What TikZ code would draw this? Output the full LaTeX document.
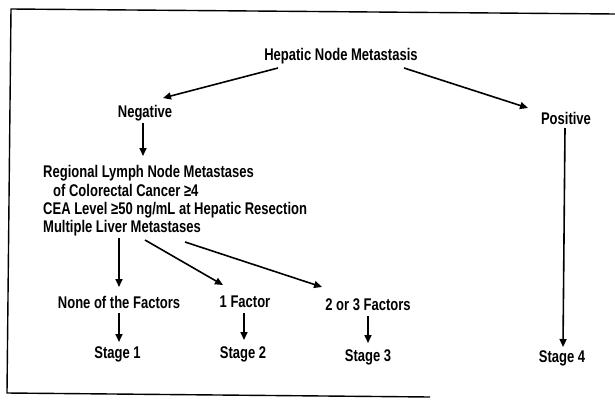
\documentclass[tikz,border=0pt]{standalone}
\usepackage{fontspec}
\setmainfont{Liberation Sans}[FakeStretch=0.77,UprightFont=*-Bold]
\usetikzlibrary{arrows.meta,calc}
\begin{document}
\begin{tikzpicture}[x=1pt,y=-1pt,
  lbl/.style={inner sep=0pt,font=\fontsize{16.9}{18.3}\selectfont},
  arr/.style={line width=1.6pt,-{Triangle[length=8pt,width=7pt]}},
  frame/.style={line width=1.4pt}]
\useasboundingbox (0,0) rectangle (615,399);
% frame (open on the right)
\draw[frame] (430,397) -- (7,393) -- (11,9) -- (615,14);
% nodes
\node[lbl] (hep) at (341,56.5) {Hepatic Node Metastasis};
\node[lbl] (neg) at (145,113.5) {Negative};
\node[lbl] (pos) at (566,118.5) {Positive};
\node[lbl,align=left,anchor=north west] (blk) at (43,165.5)
  {Regional Lymph Node Metastases\\
   \hspace*{10pt}of Colorectal Cancer ≥4\\
   CEA Level ≥50 ng/mL at Hepatic Resection\\
   Multiple Liver Metastases};
\node[lbl] (none) at (119,302) {None of the Factors};
\node[lbl] (one) at (245,302) {1 Factor};
\node[lbl] (two) at (368,305) {2 or 3 Factors};
\node[lbl] (s1) at (117.5,354) {Stage 1};
\node[lbl] (s2) at (243,354) {Stage 2};
\node[lbl] (s3) at (368,357) {Stage 3};
\node[lbl] (s4) at (562,358) {Stage 4};
% connectors
\draw[arr] ($(hep)+(-63,11.5)$) -- ($(neg)+(18,-15.5)$);
\draw[arr] ($(hep)+(63,11.5)$) -- ($(pos)+(-38,-10.5)$);
\draw[arr] ($(neg)+(-2,9.5)$) -- ($(blk.north west)+(100,-9.5)$);
\draw[arr] ($(pos)+(-1,9.5)$) -- ($(s4)+(1,-11)$);
\draw[arr] ($(blk.north west)+(76,72.5)$) -- ($(none)+(0,-15)$);
\draw[arr] ($(blk.north west)+(102,74.5)$) -- ($(one)+(-22,-17)$);
\draw[arr] ($(blk.north west)+(142,76.5)$) -- ($(two)+(-46,-18)$);
\draw[arr] ($(none)+(0,11)$) -- ($(s1)+(1.5,-12)$);
\draw[arr] ($(one)+(-1,11)$) -- ($(s2)+(1,-14)$);
\draw[arr] ($(two)+(0,11)$) -- ($(s3)+(0,-14)$);
\end{tikzpicture}
\end{document}
